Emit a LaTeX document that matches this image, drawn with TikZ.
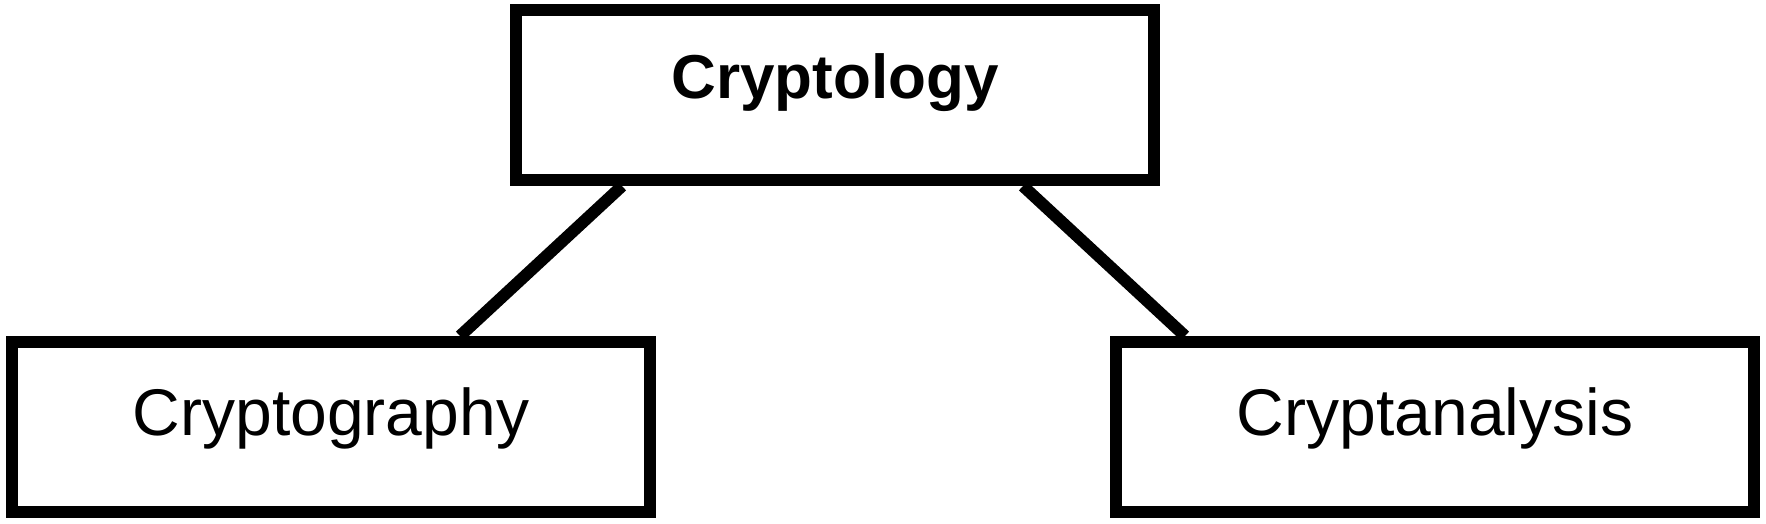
\documentclass[tikz,border=0pt]{standalone}
\usepackage{fontspec}
\setmainfont{Liberation Sans}
\usetikzlibrary{calc,backgrounds}
\tikzset{
  box/.style={draw=black, fill=white, line width=6pt, rectangle, inner sep=0pt,
    minimum width=319pt, minimum height=85pt},
  link/.style={draw=black, line width=6pt},
}
\begin{document}
\begin{tikzpicture}[x=0.5pt,y=-0.5pt]
\useasboundingbox (0,0) rectangle (1766,524);
\node[box, text height=4pt, text depth=1pt, font=\bfseries\fontsize{31pt}{36pt}\selectfont] (top) at (835,95) {Cryptology};
\node[box, text height=12pt, text depth=4pt, font=\fontsize{33pt}{38pt}\selectfont] (graphy) at (331,427) {Cryptography};
\node[box, text height=12pt, text depth=4pt, font=\fontsize{33pt}{38pt}\selectfont] (analysis) at (1435,427) {Cryptanalysis};
\begin{scope}[on background layer]
\draw[link] ($(top.south west)+(112,0)$) -- ($(graphy.north west)+(454,0)$);
\draw[link] ($(top.south west)+(513,0)$) -- ($(analysis.north west)+(75,0)$);
\end{scope}
\end{tikzpicture}
\end{document}
